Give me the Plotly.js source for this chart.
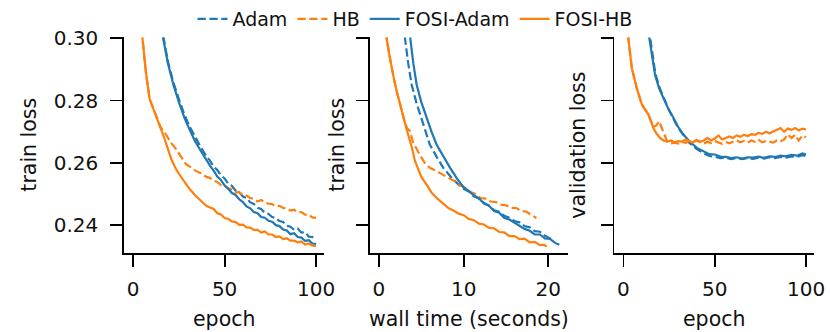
<!DOCTYPE html>
<html>
<head>
<meta charset="utf-8">
<script src="https://cdn.plot.ly/plotly-3.0.1.min.js"></script>
<style>
html,body{margin:0;padding:0;background:#fff;}
#chart{width:830px;height:332px;}
</style>
</head>
<body>
<div id="chart"></div>
<script>
// ---------- data: panel 1 (train loss vs epoch) ----------
const adamEpochX = [14,16.7,19,22,25,28,31,34,37,40,42,44,46,48,50,52,54,56,58,60,62,64,66,68,70,72,74,76,78,80,82,84,86,88,90,92,94,96,98,100];
const adamEpochY = [0.312,0.300,0.2925,0.2858,0.2805,0.2755,0.2715,0.2680,0.2650,0.2622,0.2607,0.2588,0.2577,0.2560,0.2550,0.2533,0.2526,0.2511,0.2505,0.2492,0.2487,0.2473,0.2468,0.2456,0.2452,0.2439,0.2436,0.2426,0.2423,0.2413,0.2410,0.2398,0.2395,0.2385,0.2389,0.2376,0.2378,0.2363,0.2362,0.2356];

const hbEpochX = [2,5,7,9,11,13,15,17,19,21,23,25,27,29,31,34,37,40,42,44,46,48,50,52,54,56,58,60,62,64,66,68,70,72,74,76,78,80,82,84,86,88,90,92,94,96,98,100];
const hbEpochY = [0.318,0.300,0.289,0.2805,0.2775,0.2745,0.2715,0.2700,0.2680,0.2662,0.2648,0.2630,0.2610,0.2595,0.2588,0.2575,0.2567,0.2555,0.2552,0.2543,0.2539,0.2529,0.2527,0.2518,0.2515,0.2505,0.2506,0.2496,0.2495,0.2487,0.2484,0.2476,0.2481,0.2472,0.2469,0.2467,0.2461,0.2462,0.2455,0.2454,0.2447,0.2450,0.2441,0.2442,0.2434,0.2434,0.2425,0.2423];

const fosiAdamEpochX = [14,16.4,19,22,25,28,31,34,37,40,42,44,46,48,50,52,54,56,58,60,62,64,66,68,70,72,74,76,78,80,82,84,86,88,90,92,94,96,98,100];
const fosiAdamEpochY = [0.310,0.300,0.292,0.2851,0.2795,0.2745,0.2705,0.2668,0.2638,0.2608,0.2591,0.2575,0.2556,0.2545,0.2527,0.2517,0.2503,0.2497,0.2483,0.2474,0.2460,0.2454,0.2442,0.2438,0.2426,0.2424,0.2414,0.2411,0.2400,0.2397,0.2386,0.2383,0.2371,0.2374,0.2362,0.2360,0.2350,0.2352,0.2341,0.2340];

const fosiHbEpochX = [2,5,7,9,11,13,15,17,19,21,23,25,28,31,34,37,40,42,44,46,48,50,52,54,56,58,60,62,64,66,68,70,72,74,76,78,80,82,84,86,88,90,92,94,96,98,100];
const fosiHbEpochY = [0.318,0.300,0.289,0.2805,0.2775,0.2745,0.2715,0.2680,0.2645,0.2610,0.2585,0.2565,0.2540,0.2515,0.2495,0.2478,0.2462,0.2457,0.2452,0.2438,0.2434,0.2423,0.2420,0.2412,0.2410,0.2401,0.2402,0.2393,0.2392,0.2385,0.2385,0.2376,0.2380,0.2370,0.2370,0.2362,0.2364,0.2355,0.2358,0.2350,0.2350,0.2345,0.2348,0.2338,0.2341,0.2334,0.2333];

// ---------- data: panel 2 (train loss vs wall time) ----------
const adamTimeX = [2.8,3.07,3.45,3.86,4.4,5.0,5.5,6.0,6.8,7.6,8.5,9.4,10.0,10.6,11.2,11.8,12.4,13.0,13.6,14.2,14.8,15.4,16.0,16.6,17.2,17.8,18.4,19.0,19.6,20.3];
const adamTimeY = [0.312,0.300,0.292,0.2851,0.2795,0.2744,0.2700,0.2659,0.2620,0.2584,0.2555,0.2530,0.2517,0.2508,0.2493,0.2486,0.2470,0.2463,0.2448,0.2443,0.2430,0.2424,0.2413,0.2409,0.2397,0.2393,0.2381,0.2379,0.2366,0.2356];

const hbTimeX = [0.5,0.9,1.2,1.5,1.8,2.1,2.4,2.7,3.0,3.3,3.66,4.0,4.4,4.8,5.4,6.0,6.6,7.2,7.8,8.4,9.0,9.6,10.2,10.8,11.4,12.0,12.6,13.2,13.8,14.4,15.0,15.6,16.2,16.8,17.4,18.0,18.6];
const hbTimeY = [0.325,0.300,0.295,0.2904,0.2865,0.2829,0.2795,0.2765,0.2735,0.2712,0.2702,0.2668,0.2645,0.2627,0.2600,0.2584,0.2576,0.2567,0.2558,0.2549,0.2540,0.2527,0.2520,0.2506,0.2500,0.2487,0.2485,0.2476,0.2474,0.2466,0.2464,0.2455,0.2455,0.2446,0.2443,0.2433,0.2423];

const fosiAdamTimeX = [3.4,3.7,4.05,4.45,5.0,5.6,6.2,6.8,7.6,8.4,9.2,10.0,10.6,11.2,11.8,12.4,13.0,13.6,14.2,14.8,15.4,16.0,16.6,17.2,17.8,18.4,19.0,19.6,20.2,20.8,21.3];
const fosiAdamTimeY = [0.310,0.300,0.292,0.2851,0.2795,0.2744,0.2700,0.2659,0.2620,0.2584,0.2550,0.2521,0.2510,0.2496,0.2486,0.2470,0.2462,0.2445,0.2440,0.2423,0.2418,0.2408,0.2400,0.2388,0.2382,0.2370,0.2370,0.2357,0.2356,0.2343,0.2337];

const fosiHbTimeX = [0.5,0.9,1.2,1.5,1.8,2.1,2.4,2.7,3.0,3.3,3.6,3.9,4.25,4.6,5.0,5.6,6.2,6.9,7.6,8.2,8.8,9.4,10.0,10.6,11.2,11.8,12.4,13.0,13.6,14.2,14.8,15.4,16.0,16.6,17.2,17.8,18.4,19.0,19.5,19.8];
const fosiHbTimeY = [0.325,0.300,0.295,0.2904,0.2865,0.2829,0.2795,0.2765,0.2735,0.2705,0.2680,0.2648,0.2606,0.2580,0.2555,0.2531,0.2505,0.2485,0.2468,0.2455,0.2447,0.2437,0.2432,0.2420,0.2416,0.2405,0.2402,0.2391,0.2390,0.2378,0.2377,0.2365,0.2365,0.2355,0.2357,0.2345,0.2346,0.2336,0.2337,0.2331];

// ---------- data: panel 3 (validation loss vs epoch) ----------
const adamValX = [12,14.5,17.5,20,22.5,25,27.5,30,33,36,40,44,47,50,53,56,59,62,65,68,71,74,77,80,83,86,89,92,95,98,100];
const adamValY = [0.311,0.300,0.2885,0.2838,0.2800,0.2768,0.2740,0.2712,0.2688,0.2665,0.2645,0.2630,0.2622,0.2620,0.2615,0.2616,0.2612,0.2616,0.2612,0.2615,0.2613,0.2617,0.2614,0.2618,0.2615,0.2619,0.2617,0.2621,0.2619,0.2625,0.2622];

const hbValX = [1,2.7,4.6,7.3,10.1,12,13.7,15,16.4,18,19.5,21,22.5,24,26,28,30,32,34,36,38,40,42,44,46,48,50,52,54,56,58,60,62,64,66,68,70,72,74,76,78,80,82,84,86,88,90,92,94,96,98,100];
const hbValY = [0.320,0.300,0.2904,0.2840,0.2787,0.2770,0.2755,0.2735,0.2715,0.2720,0.2734,0.2712,0.2690,0.2668,0.2662,0.2665,0.2662,0.2668,0.2664,0.2670,0.2666,0.2672,0.2667,0.2662,0.2668,0.2664,0.2670,0.2666,0.2661,0.2667,0.2663,0.2668,0.2672,0.2666,0.2670,0.2665,0.2672,0.2668,0.2674,0.2666,0.2670,0.2668,0.2665,0.2672,0.2669,0.2675,0.2692,0.2680,0.2690,0.2672,0.2688,0.2682];

const fosiAdamValX = [12,14.2,17.3,19.5,21.9,24.5,27.4,30,32.8,36,40.2,44,47,50,53,56,59,62,65,68,71,74,77,80,83,86,89,92,95,98,100];
const fosiAdamValY = [0.310,0.300,0.2883,0.2840,0.2808,0.2775,0.2744,0.2715,0.2691,0.2670,0.2648,0.2636,0.2628,0.2627,0.2620,0.2619,0.2615,0.2618,0.2614,0.2618,0.2617,0.2620,0.2616,0.2621,0.2619,0.2623,0.2621,0.2626,0.2623,0.2630,0.2627];

const fosiHbValX = [1,2.7,4.6,7.3,10.1,12,13.7,15,16.4,18,20,22,24,26,28,30,32,34,36,38,40,42,44,46,48,50,52,54,56,58,60,62,64,66,68,70,72,74,76,78,80,82,84,86,88,90,92,94,96,98,100];
const fosiHbValY = [0.320,0.300,0.2904,0.2840,0.2787,0.2770,0.2755,0.2735,0.2712,0.2695,0.2680,0.2672,0.2668,0.2672,0.2666,0.2670,0.2668,0.2675,0.2670,0.2665,0.2674,0.2668,0.2672,0.2680,0.2672,0.2678,0.2688,0.2675,0.2680,0.2685,0.2680,0.2688,0.2684,0.2690,0.2686,0.2692,0.2690,0.2696,0.2693,0.2700,0.2695,0.2700,0.2706,0.2712,0.2700,0.2710,0.2706,0.2712,0.2704,0.2710,0.2707];

const seriesNames = ['Adam','HB','FOSI-Adam','FOSI-HB'];
const yTickVals = [0.24,0.26,0.28,0.30];
const epochTicks = [0,50,100];
const timeTicks = [0,10,20];
const axisTitles = {p1x:'epoch', p2x:'wall time (seconds)', p3x:'epoch', p1y:'train loss', p2y:'train loss', p3y:'validation loss'};

// ---------- styling ----------
const BLUE = '#1f77b4', ORANGE = '#ff7f0e';
const FONT = 'DejaVu Sans, sans-serif';
const LW = 2.2;
const DASH = '8.3px,3.6px';

const styles = [
  {name: seriesNames[0], color: BLUE, dash: DASH},
  {name: seriesNames[1], color: ORANGE, dash: DASH},
  {name: seriesNames[2], color: BLUE, dash: 'solid'},
  {name: seriesNames[3], color: ORANGE, dash: 'solid'}
];

const panels = [
  {xa:'x', ya:'y', data:[[adamEpochX,adamEpochY],[hbEpochX,hbEpochY],[fosiAdamEpochX,fosiAdamEpochY],[fosiHbEpochX,fosiHbEpochY]], legend:true},
  {xa:'x2', ya:'y2', data:[[adamTimeX,adamTimeY],[hbTimeX,hbTimeY],[fosiAdamTimeX,fosiAdamTimeY],[fosiHbTimeX,fosiHbTimeY]], legend:false},
  {xa:'x3', ya:'y3', data:[[adamValX,adamValY],[hbValX,hbValY],[fosiAdamValX,fosiAdamValY],[fosiHbValX,fosiHbValY]], legend:false}
];

const traces = [];
panels.forEach(p => {
  p.data.forEach((d, i) => {
    const s = styles[i];
    traces.push({
      type:'scatter', mode:'lines', x:d[0], y:d[1], xaxis:p.xa, yaxis:p.ya,
      name:s.name, legendgroup:s.name, showlegend:p.legend,
      line:{color:s.color, width:LW, dash:s.dash}, hoverinfo:'skip'
    });
  });
});

const W = 830, H = 332;
const px = v => v / W;
const py = v => 1 - v / H;
const yDom = [py(252.3), py(35.7)];
const yRange = [0.23113, 0.30026];

function xAxis(dom, range, ticks){
  return {domain:dom, range:range, tickmode:'array', tickvals:ticks, ticktext:ticks.map(String),
    showline:true, linecolor:'#000', linewidth:1.8, ticks:'outside', ticklen:12, tickwidth:1.8, tickcolor:'#000',
    showgrid:false, zeroline:false, tickfont:{family:FONT, size:20, color:'#111'}, ticklabelstandoff:5, fixedrange:true};
}
function yAxis(anchor, showLabels){
  return {domain:yDom, range:yRange, anchor:anchor, tickmode:'array', tickvals:yTickVals, ticktext:yTickVals.map(v=>v.toFixed(2)),
    showticklabels:showLabels, showline:true, linecolor:'#000', linewidth:1.8, ticks:'outside', ticklen:12, tickwidth:1.8, tickcolor:'#000',
    showgrid:false, zeroline:false, tickfont:{family:FONT, size:20, color:'#111'}, ticklabelstandoff:8, fixedrange:true};
}

const titleFont = {family:FONT, size:20.5, color:'#111'};
const ann = (text, x, y, rot) => ({text:text, xref:'paper', yref:'paper', x:px(x), y:py(y), xanchor:'center', yanchor:'middle',
  showarrow:false, textangle:rot, font:titleFont});

const layout = {
  width:W, height:H,
  margin:{l:0, r:0, t:0, b:0},
  paper_bgcolor:'#fff', plot_bgcolor:'#fff',
  font:{family:FONT, color:'#111'},
  showlegend:true,
  legend:{orientation:'h', x:0.5, xanchor:'center', y:1.006, yanchor:'top', font:{family:FONT, size:19, color:'#111'},
    bgcolor:'rgba(0,0,0,0)', itemwidth:30, traceorder:'normal'},
  xaxis: Object.assign(xAxis([px(124), px(324.3)], [-5, 104.5], epochTicks), {anchor:'y'}),
  xaxis2: Object.assign(xAxis([px(369.5), px(568.3)], [-1.12, 22.36], timeTicks), {anchor:'y2'}),
  xaxis3: Object.assign(xAxis([px(614.3), px(814.3)], [-5, 104.5], epochTicks), {anchor:'y3'}),
  yaxis: yAxis('x', true),
  yaxis2: yAxis('x2', false),
  yaxis3: yAxis('x3', false),
  annotations:[
    ann(axisTitles.p1x, 224.2, 318.5, 0),
    ann(axisTitles.p2x, 469, 318.5, 0),
    ann(axisTitles.p3x, 714.3, 318.5, 0),
    ann(axisTitles.p1y, 29.5, 144, -90),
    ann(axisTitles.p2y, 337.5, 144, -90),
    ann(axisTitles.p3y, 578.5, 144, -90)
  ]
};

Plotly.newPlot('chart', traces, layout, {displayModeBar:false, staticPlot:true});
</script>
</body>
</html>
